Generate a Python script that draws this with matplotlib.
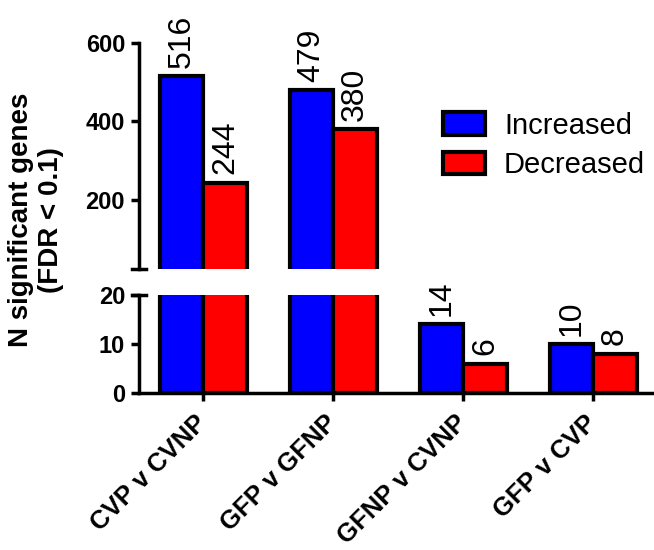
import numpy as np
import matplotlib
matplotlib.use("Agg")
import matplotlib.pyplot as plt
from matplotlib.patches import Patch

plt.rcParams['font.family'] = ['Liberation Sans', 'DejaVu Sans']

comparisons = ["CVP v CVNP", "GFP v GFNP", "GFNP v CVNP", "GFP v CVP"]
increased = [516, 479, 14, 10]
decreased = [244, 380, 6, 8]

BLUE = "#0000ff"
RED = "#ff0000"
W = 1 / 3
BREAK = 20

fig = plt.figure(figsize=(6.54, 5.5), dpi=100)
ax_top = fig.add_axes([0.2125, 0.511, 0.79, 0.411])
ax_bot = fig.add_axes([0.2125, 0.2855, 0.79, 0.178])

x = np.arange(len(comparisons))
for ax in (ax_top, ax_bot):
    ax.bar(x - W / 2, increased, W, color=BLUE, edgecolor="black", linewidth=3)
    ax.bar(x + W / 2, decreased, W, color=RED, edgecolor="black", linewidth=3)
    ax.set_xlim(-0.495, 3.48)
    for s in ("top", "right"):
        ax.spines[s].set_visible(False)
    ax.spines["left"].set_linewidth(2.5)
    ax.spines["bottom"].set_linewidth(2.5)
    ax.tick_params(axis="y", length=6, width=2.5, labelsize=17, pad=4)

ax_top.set_ylim(24, 600)
ax_top.set_yticks([200, 400, 600])
ax_top.spines["bottom"].set_visible(False)
ax_top.set_xticks([])
for lab in ax_top.get_yticklabels():
    lab.set_fontweight("bold")

ax_bot.set_ylim(0, BREAK)
ax_bot.set_yticks([0, 10, 20])
ax_bot.set_xticks(x)
ax_bot.set_xticklabels(comparisons, rotation=45, ha="right", va="center",
                       rotation_mode="anchor", fontsize=18.5, fontweight="bold")
ax_bot.tick_params(axis="x", length=6, width=2.5, pad=13)
for lab in ax_bot.get_yticklabels():
    lab.set_fontweight("bold")

# break marks on the y axis
d = 0.0135
ax_top.plot([-d, d], [0, 0], transform=ax_top.transAxes, color="black", lw=2.5, clip_on=False)
ax_bot.plot([-d, d], [1, 1], transform=ax_bot.transAxes, color="black", lw=2.5, clip_on=False)

# value labels
for xi, v in zip(x - W / 2, increased):
    ax = ax_top if v > BREAK else ax_bot
    ax.annotate(str(v), (xi, v), xytext=(0, 6), textcoords="offset points",
                rotation=90, ha="center", va="bottom", fontsize=23, annotation_clip=False)
for xi, v in zip(x + W / 2, decreased):
    ax = ax_top if v > BREAK else ax_bot
    ax.annotate(str(v), (xi, v), xytext=(0, 6), textcoords="offset points",
                rotation=90, ha="center", va="bottom", fontsize=23, annotation_clip=False)

handles = [Patch(facecolor=BLUE, edgecolor="black", linewidth=3, label="Increased"),
           Patch(facecolor=RED, edgecolor="black", linewidth=3, label="Decreased")]
fig.legend(handles=handles, loc="upper left", bbox_to_anchor=(0.677, 0.797),
           bbox_transform=fig.transFigure, frameon=False, fontsize=21,
           handlelength=1.45, handleheight=0.8, handletextpad=0.65,
           labelspacing=0.4, borderpad=0, borderaxespad=0)

fig.text(0.055, 0.6, "N significant genes\n(FDR < 0.1)", rotation=90,
         ha="center", va="center", multialignment="center",
         fontsize=20, fontweight="bold")

fig.savefig("out.png", dpi=100)
